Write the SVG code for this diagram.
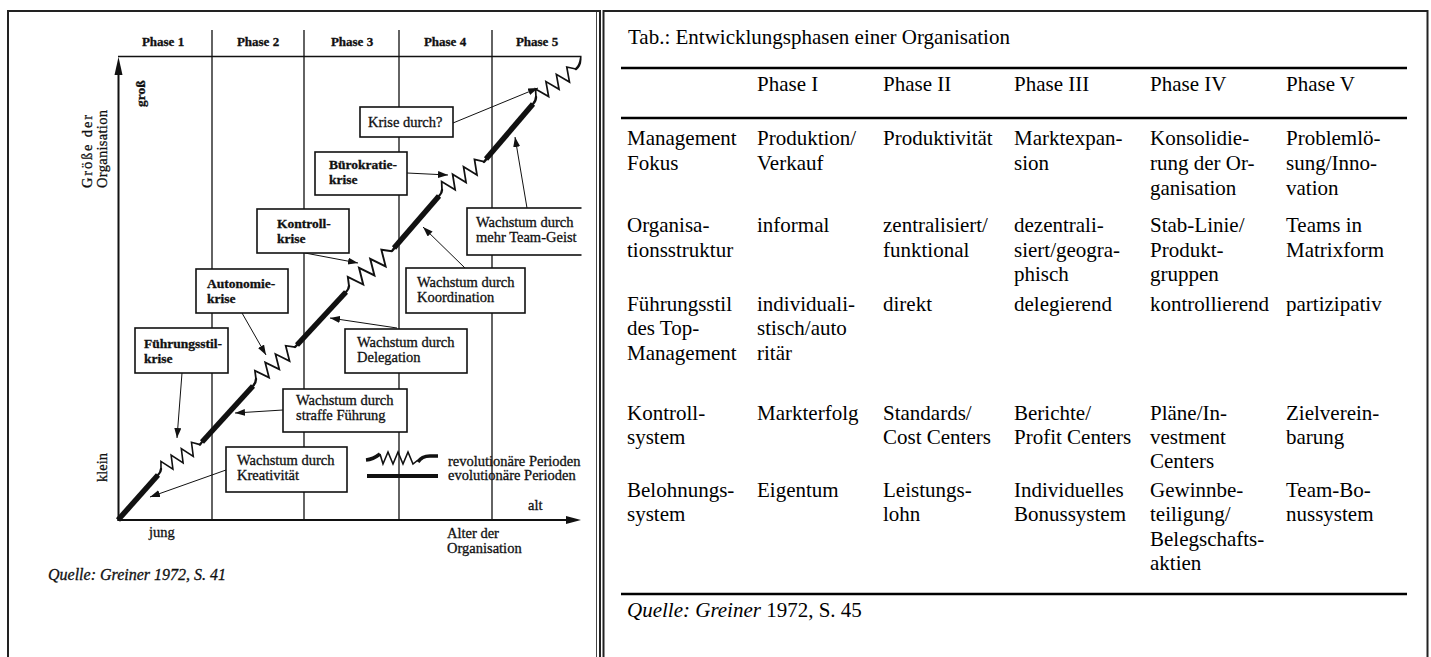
<svg xmlns="http://www.w3.org/2000/svg" width="1431" height="657" viewBox="0 0 1431 657">
<style>
.s text{font-family:"Liberation Serif","Times New Roman",serif;fill:#111;stroke:#111;stroke-width:0.3}
.ph{font-size:13px;font-weight:bold;text-anchor:middle}
.kb{font-size:13.5px;font-weight:bold}
.wb{font-size:14.5px}
.lb{font-size:14.5px}
.box{fill:#fff;stroke:#111;stroke-width:1.6}
.ax{stroke:#111;stroke-width:2;fill:none}
.dv{stroke:#222;stroke-width:1.4}
.th{stroke:#111;stroke-width:5.5;fill:none}
.hk{stroke:#111;stroke-width:2.4;fill:none;stroke-linecap:round}
.zz{stroke:#111;stroke-width:1.6;fill:none}
.cn{stroke:#111;stroke-width:1;fill:none;marker-end:url(#ah)}
.t text{font-family:"Liberation Serif","Times New Roman",serif;font-size:21px;fill:#000}
.rule{stroke:#000;stroke-width:2.5}
.frame{fill:none;stroke:#222;stroke-width:2}
</style>
<defs>
<marker id="ah" markerUnits="userSpaceOnUse" markerWidth="10" markerHeight="8" refX="10" refY="3.5" orient="auto"><path d="M0,0 L10,3.5 L0,7 z" fill="#111"/></marker>
<path id="zzp" d="M0,0 L4,-6.5 L10,6.5 L16,-6.5 L22,6.5 L28,-6.5 L34,6.5 L40,-6.5 L46,0"/>
<clipPath id="scan"><rect x="0" y="0" width="581.5" height="657"/></clipPath>
</defs>
<rect width="1431" height="657" fill="#fff"/>
<g id="frames">
<rect class="frame" x="8" y="11" width="592" height="700"/>
<line x1="596.5" y1="12" x2="596.5" y2="657" stroke="#444" stroke-width="1"/>
<rect class="frame" x="603.5" y="11" width="824" height="700"/>
</g>
<g class="s" clip-path="url(#scan)">
<g id="axes">
<line class="dv" x1="212" y1="30" x2="212" y2="520"/>
<line class="dv" x1="304" y1="30" x2="304" y2="520"/>
<line class="dv" x1="399" y1="30" x2="399" y2="520"/>
<line class="dv" x1="492" y1="30" x2="492" y2="520"/>
<line x1="118" y1="56.5" x2="582" y2="56.5" stroke="#111" stroke-width="1.5"/>
<path class="ax" d="M118.5,521 L118.5,70"/>
<polygon points="118.5,57 114.5,75 122.5,75" fill="#111"/>
<path class="ax" d="M117.5,520 L570,520"/>
<polygon points="581,520 566,516 566,524" fill="#111"/>
<text class="ph" x="163" y="46">Phase 1</text>
<text class="ph" x="258" y="46">Phase 2</text>
<text class="ph" x="352" y="46">Phase 3</text>
<text class="ph" x="445" y="46">Phase 4</text>
<text class="ph" x="537" y="46">Phase 5</text>
<text class="lb" font-size="15" transform="translate(92,188) rotate(-90)" textLength="73" lengthAdjust="spacing">Größe der</text>
<text class="lb" font-size="15" transform="translate(106.5,188) rotate(-90)" textLength="78" lengthAdjust="spacing">Organisation</text>
<text class="kb" transform="translate(144.5,107) rotate(-90)">groß</text>
<text class="lb" transform="translate(107,482) rotate(-90)">klein</text>
<text class="lb" x="149" y="537">jung</text>
<text class="lb" x="528" y="510">alt</text>
<text class="lb" x="447" y="538">Alter der</text>
<text class="lb" x="447" y="553">Organisation</text>
</g>
<g id="growth-curve">
<path class="th" d="M118,520 L158,475"/>
<path class="hk" d="M158,475 Q161,472 161,469"/>
<use href="#zzp" class="zz" transform="translate(161,469) rotate(-32)"/>
<path class="hk" d="M200,444.6 Q201,443 203,441"/>
<path class="th" d="M202,442 L253,386"/>
<path class="hk" d="M253,386 Q256,383 256,379"/>
<use href="#zzp" class="zz" transform="translate(256,379) rotate(-39) scale(1.1)"/>
<path class="hk" d="M295,347 Q296,346 298,344"/>
<path class="th" d="M297,345 L346,292"/>
<path class="hk" d="M346,292 Q349,289 349,286"/>
<use href="#zzp" class="zz" transform="translate(349,286) rotate(-39) scale(1.2)"/>
<path class="hk" d="M392,251 Q393,250 395,247"/>
<path class="th" d="M394,248 L439,196"/>
<path class="hk" d="M439,196 Q442,193 442,190"/>
<use href="#zzp" class="zz" transform="translate(442,190) rotate(-34) scale(1.1)"/>
<path class="hk" d="M484,162 Q485,161 487,158"/>
<path class="th" d="M486,159 L533,104"/>
<path class="hk" d="M533,104 Q536,101 536,97"/>
<use href="#zzp" class="zz" transform="translate(536,97) rotate(-35) scale(1.06)"/>
<path class="hk" d="M576,69 Q580,66 581,58"/>
</g>
<g id="legend">
<path d="M366,460 C371,459.5 376,457 380,454" stroke="#111" stroke-width="3.5" fill="none"/>
<path class="zz" d="M380,454 L383,464 L388,452 L393,464 L398,452 L403,464 L408,452 L413,464 L418,460"/>
<path d="M418,462 C421,457 425,456 430,456 L438,456" stroke="#111" stroke-width="3.5" fill="none"/>
<line x1="367" y1="476" x2="438" y2="476" stroke="#111" stroke-width="4"/>
<text class="lb" x="448" y="466">revolutionäre Perioden</text>
<text class="lb" x="448" y="480">evolutionäre  Perioden</text>
</g>
<g id="connectors">
<path class="cn" d="M182,373 L177,438"/>
<path class="cn" d="M242,313 L266,355"/>
<path class="cn" d="M305,253 L358,263"/>
<path class="cn" d="M407,173 L448,175"/>
<path class="cn" d="M453,123 L538,88"/>
<path class="cn" d="M226,470 L150,497"/>
<path class="cn" d="M283,410 L235,413"/>
<path class="cn" d="M397,328 L330,318"/>
<path class="cn" d="M465,268 L423,227"/>
<path class="cn" d="M527,208 L515,137"/>
</g>
<g id="n-fuehrungsstilkrise">
<rect class="box" x="135" y="328" width="93" height="45"/>
<text class="kb" x="144" y="348">Führungsstil-</text>
<text class="kb" x="144" y="363">krise</text>
</g>
<g id="n-autonomiekrise">
<rect class="box" x="196" y="269" width="92" height="44"/>
<text class="kb" x="207" y="288">Autonomie-</text>
<text class="kb" x="207" y="303">krise</text>
</g>
<g id="n-kontrollkrise">
<rect class="box" x="257" y="209" width="92" height="44"/>
<text class="kb" x="277" y="228">Kontroll-</text>
<text class="kb" x="277" y="243">krise</text>
</g>
<g id="n-buerokratiekrise">
<rect class="box" x="315" y="152" width="92" height="43"/>
<text class="kb" x="329" y="169">Bürokratie-</text>
<text class="kb" x="329" y="184">krise</text>
</g>
<g id="n-krisedurch">
<rect class="box" x="360" y="107" width="93" height="30"/>
<text class="wb" x="368" y="127">Krise durch?</text>
</g>
<g id="n-kreativitaet">
<rect class="box" x="226" y="447" width="121" height="45"/>
<text class="wb" x="237" y="465">Wachstum durch</text>
<text class="wb" x="237" y="480">Kreativität</text>
</g>
<g id="n-fuehrung">
<rect class="box" x="283" y="389" width="124" height="43"/>
<text class="wb" x="296" y="405">Wachstum durch</text>
<text class="wb" x="296" y="420">straffe Führung</text>
</g>
<g id="n-delegation">
<rect class="box" x="345" y="329" width="122" height="44"/>
<text class="wb" x="357" y="347">Wachstum durch</text>
<text class="wb" x="357" y="362">Delegation</text>
</g>
<g id="n-koordination">
<rect class="box" x="406" y="268" width="119" height="45"/>
<text class="wb" x="417" y="287">Wachstum durch</text>
<text class="wb" x="417" y="302">Koordination</text>
</g>
<g id="n-teamgeist">
<rect class="box" x="467" y="208" width="130" height="47"/>
<text class="wb" x="476" y="227">Wachstum durch</text>
<text class="wb" x="476" y="242">mehr Team-Geist</text>
</g>
</g>
<text x="48" y="580" font-family="Liberation Serif, serif" font-style="italic" font-size="16" fill="#111" stroke="#111" stroke-width="0.3">Quelle: Greiner 1972, S. 41</text>
<g id="table" class="t">
<text x="628" y="44">Tab.: Entwicklungsphasen einer Organisation</text>
<line class="rule" x1="621" y1="68" x2="1407" y2="68"/>
<line class="rule" x1="621" y1="118" x2="1407" y2="118"/>
<line class="rule" x1="621" y1="594" x2="1407" y2="594"/>
<g id="header">
<text x="757" y="91">Phase I</text>
<text x="883" y="91">Phase II</text>
<text x="1014" y="91">Phase III</text>
<text x="1150" y="91">Phase IV</text>
<text x="1286" y="91">Phase V</text>
</g>
<g id="row-fokus">
<text x="627" y="145">Management</text><text x="627" y="170">Fokus</text>
<text x="757" y="145">Produktion/</text><text x="757" y="170">Verkauf</text>
<text x="883" y="145">Produktivität</text>
<text x="1014" y="145">Marktexpan-</text><text x="1014" y="170">sion</text>
<text x="1150" y="145">Konsolidie-</text><text x="1150" y="170">rung der Or-</text><text x="1150" y="195">ganisation</text>
<text x="1286" y="145">Problemlö-</text><text x="1286" y="170">sung/Inno-</text><text x="1286" y="195">vation</text>
</g>
<g id="row-struktur">
<text x="627" y="232">Organisa-</text><text x="627" y="257">tionsstruktur</text>
<text x="757" y="232">informal</text>
<text x="883" y="232">zentralisiert/</text><text x="883" y="257">funktional</text>
<text x="1014" y="232">dezentrali-</text><text x="1014" y="257">siert/geogra-</text><text x="1014" y="281">phisch</text>
<text x="1150" y="232">Stab-Linie/</text><text x="1150" y="257">Produkt-</text><text x="1150" y="281">gruppen</text>
<text x="1286" y="232">Teams in</text><text x="1286" y="257">Matrixform</text>
</g>
<g id="row-fuehrungsstil">
<text x="627" y="311">Führungsstil</text><text x="627" y="335">des Top-</text><text x="627" y="360">Management</text>
<text x="757" y="311">individuali-</text><text x="757" y="335">stisch/auto</text><text x="757" y="360">ritär</text>
<text x="883" y="311">direkt</text>
<text x="1014" y="311">delegierend</text>
<text x="1150" y="311">kontrollierend</text>
<text x="1286" y="311">partizipativ</text>
</g>
<g id="row-kontrolle">
<text x="627" y="420">Kontroll-</text><text x="627" y="444">system</text>
<text x="757" y="420">Markterfolg</text>
<text x="883" y="420">Standards/</text><text x="883" y="444">Cost Centers</text>
<text x="1014" y="420">Berichte/</text><text x="1014" y="444">Profit Centers</text>
<text x="1150" y="420">Pläne/In-</text><text x="1150" y="444">vestment</text><text x="1150" y="468">Centers</text>
<text x="1286" y="420">Zielverein-</text><text x="1286" y="444">barung</text>
</g>
<g id="row-belohnung">
<text x="627" y="497">Belohnungs-</text><text x="627" y="521">system</text>
<text x="757" y="497">Eigentum</text>
<text x="883" y="497">Leistungs-</text><text x="883" y="521">lohn</text>
<text x="1014" y="497">Individuelles</text><text x="1014" y="521">Bonussystem</text>
<text x="1150" y="497">Gewinnbe-</text><text x="1150" y="521">teiligung/</text><text x="1150" y="546">Belegschafts-</text><text x="1150" y="570">aktien</text>
<text x="1286" y="497">Team-Bo-</text><text x="1286" y="521">nussystem</text>
</g>
<text x="627" y="617"><tspan font-style="italic">Quelle: Greiner</tspan> 1972, S. 45</text>
</g>
</svg>
